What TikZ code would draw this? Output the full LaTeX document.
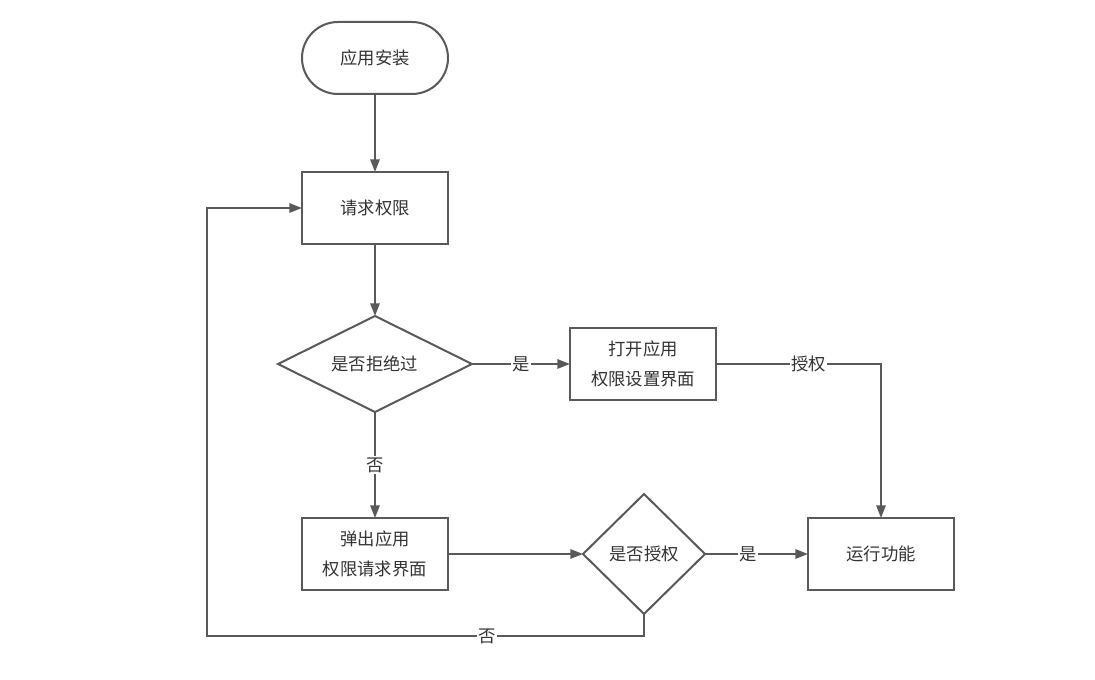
\documentclass[tikz,border=0pt]{standalone}
\usepackage{fontspec}
\setmainfont{Noto Sans CJK SC}
\usetikzlibrary{shapes.geometric,arrows.meta,positioning,calc}
\definecolor{linegray}{RGB}{89,89,89}
\definecolor{textgray}{RGB}{51,51,51}

\begin{document}
\begin{tikzpicture}[node distance=58.5pt, >={Triangle[length=9.5pt,width=7pt]},
    box/.style={draw=linegray, line width=1.5pt, outer sep=0pt, fill=white, minimum width=109.5pt, minimum height=54pt, align=center, text=textgray, font=\fontsize{13}{23}\selectfont},
    startbox/.style={box, rounded corners=27pt},
    decision/.style={box, diamond, aspect=2, inner sep=0pt},
    line/.style={->, draw=linegray, line width=1.5pt},
    tag/.style={fill=white, text=textgray, inner sep=1pt, font=\fontsize{13}{15}\selectfont}]

  \node[startbox] (install) {应用安装};
  \node[box, below=of install] (request) {请求权限};
  \node[decision, below=54pt of request, minimum width=145.5pt, minimum height=72pt] (refused) {是否拒绝过};
  \node[box, right=73.5pt of refused] (settings) {打开应用\\权限设置界面};
  \node[box, below=79.5pt of refused] (popup) {弹出应用\\权限请求界面};
  \node[decision, aspect=1, right=101.25pt of popup, minimum width=91.5pt, minimum height=90pt] (granted) {是否授权};
  \node[box, right=77.25pt of granted] (run) {运行功能};
  \coordinate[left=71.25pt of request.west] (back);

  \draw[line] (install) -- (request);
  \draw[line] (request) -- (refused);
  \draw[line] (refused) -- node[tag] {是} (settings);
  \draw[line] (settings) -| node[tag, pos=0.28] {授权} (run);
  \draw[line] (refused) -- node[tag] {否} (popup);
  \draw[line] (popup) -- (granted);
  \draw[line] (granted) -- node[tag, pos=0.42] {是} (run);
  \draw[line] (granted.south) -- ++(0,-16.5pt) -| node[tag, pos=0.18] {否} (back) -- (request);

  \useasboundingbox ($(install.center)+(-281.25pt,43.5pt)$) rectangle ($(install.center)+(540pt,-466.5pt)$);
\end{tikzpicture}
\end{document}
